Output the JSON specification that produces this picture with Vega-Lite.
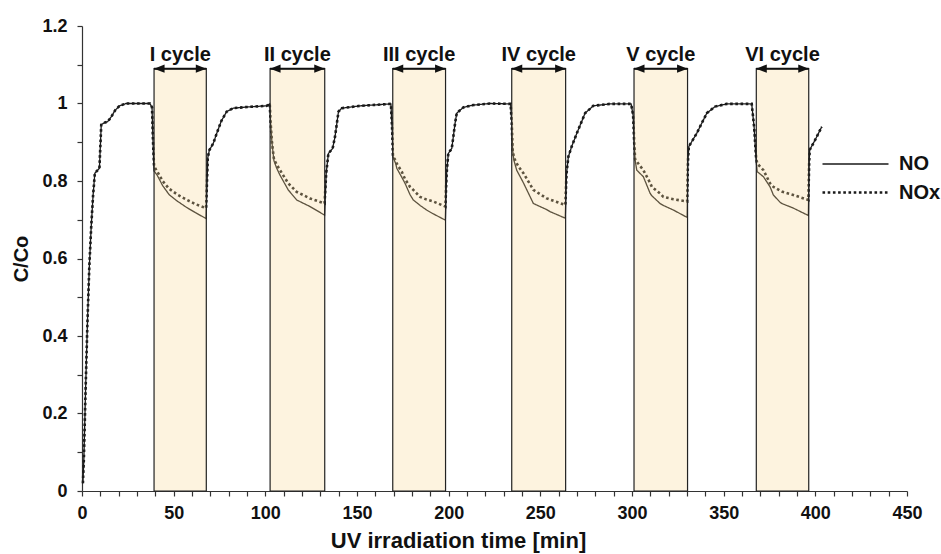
{
  "$schema": "https://vega.github.io/schema/vega-lite/v6.json",
  "width": 825,
  "height": 465,
  "autosize": {"type": "none"},
  "padding": {"left": 82, "top": 26, "right": 34, "bottom": 63},
  "background": "white",
  "config": {
    "view": {"stroke": null},
    "font": "Liberation Sans",
    "axis": {
      "grid": false,
      "domainColor": "#333333",
      "domainWidth": 1.2,
      "tickColor": "#333333",
      "tickWidth": 1.2,
      "tickSize": 5,
      "labelFont": "Liberation Sans",
      "labelFontSize": 18,
      "labelFontWeight": "bold",
      "labelColor": "#111111",
      "labelOverlap": false,
      "labelFlush": false,
      "titleFont": "Liberation Sans",
      "titleFontSize": 20,
      "titleFontWeight": "bold",
      "titleColor": "#111111"
    },
    "legend": {
      "orient": "none",
      "legendX": 761,
      "legendY": 126,
      "padding": 0,
      "labelFont": "Liberation Sans",
      "labelFontSize": 20,
      "labelFontWeight": "bold",
      "labelColor": "#111111",
      "symbolType": "M-3,0H3",
      "symbolSize": 484,
      "symbolStrokeColor": "#1a1a1a",
      "labelOffset": 31,
      "rowPadding": 6
    }
  },
  "datasets": {
    "curve": [
      {"t": 0.5, "NO": 0.02, "NOx": 0.02},
      {"t": 1, "NO": 0.08, "NOx": 0.08},
      {"t": 2, "NO": 0.27, "NOx": 0.27},
      {"t": 3, "NO": 0.44, "NOx": 0.44},
      {"t": 4, "NO": 0.58, "NOx": 0.58},
      {"t": 5, "NO": 0.68, "NOx": 0.68},
      {"t": 6, "NO": 0.76, "NOx": 0.76},
      {"t": 7, "NO": 0.82, "NOx": 0.82},
      {"t": 9.5, "NO": 0.833, "NOx": 0.833},
      {"t": 10.5, "NO": 0.945, "NOx": 0.945},
      {"t": 12, "NO": 0.95, "NOx": 0.95},
      {"t": 14, "NO": 0.953, "NOx": 0.953},
      {"t": 16, "NO": 0.966, "NOx": 0.966},
      {"t": 18, "NO": 0.982, "NOx": 0.982},
      {"t": 20.5, "NO": 0.994, "NOx": 0.994},
      {"t": 24, "NO": 1.0, "NOx": 1.0},
      {"t": 37, "NO": 1.0, "NOx": 1.0},
      {"t": 38.2, "NO": 0.99, "NOx": 0.99},
      {"t": 38.7, "NO": 0.906, "NOx": 0.906},
      {"t": 39.3, "NO": 0.826, "NOx": 0.838},
      {"t": 41, "NO": 0.815, "NOx": 0.825},
      {"t": 44, "NO": 0.788, "NOx": 0.8},
      {"t": 47.5, "NO": 0.765, "NOx": 0.78},
      {"t": 52, "NO": 0.748, "NOx": 0.765},
      {"t": 57, "NO": 0.732, "NOx": 0.752},
      {"t": 62, "NO": 0.718, "NOx": 0.74},
      {"t": 67.7, "NO": 0.703, "NOx": 0.73},
      {"t": 68.6, "NO": 0.86, "NOx": 0.86},
      {"t": 69.5, "NO": 0.88, "NOx": 0.88},
      {"t": 71.6, "NO": 0.897, "NOx": 0.897},
      {"t": 73.5, "NO": 0.923, "NOx": 0.923},
      {"t": 76, "NO": 0.955, "NOx": 0.955},
      {"t": 78.9, "NO": 0.979, "NOx": 0.979},
      {"t": 82.5, "NO": 0.988, "NOx": 0.988},
      {"t": 90, "NO": 0.991, "NOx": 0.991},
      {"t": 100.8, "NO": 0.994, "NOx": 0.994},
      {"t": 102.4, "NO": 0.999, "NOx": 0.999},
      {"t": 102.9, "NO": 0.949, "NOx": 0.949},
      {"t": 103.6, "NO": 0.9, "NOx": 0.9},
      {"t": 104.7, "NO": 0.852, "NOx": 0.856},
      {"t": 106.2, "NO": 0.833, "NOx": 0.842},
      {"t": 108, "NO": 0.815, "NOx": 0.828},
      {"t": 112.5, "NO": 0.777, "NOx": 0.794},
      {"t": 117.1, "NO": 0.751, "NOx": 0.772},
      {"t": 124.4, "NO": 0.734, "NOx": 0.755},
      {"t": 132.3, "NO": 0.712, "NOx": 0.742},
      {"t": 133.2, "NO": 0.82, "NOx": 0.82},
      {"t": 134.4, "NO": 0.871, "NOx": 0.871},
      {"t": 136.7, "NO": 0.884, "NOx": 0.884},
      {"t": 138, "NO": 0.914, "NOx": 0.914},
      {"t": 139.9, "NO": 0.979, "NOx": 0.979},
      {"t": 141.7, "NO": 0.988, "NOx": 0.988},
      {"t": 151.7, "NO": 0.994, "NOx": 0.994},
      {"t": 168.5, "NO": 0.999, "NOx": 0.999},
      {"t": 169.2, "NO": 0.93, "NOx": 0.93},
      {"t": 169.6, "NO": 0.863, "NOx": 0.863},
      {"t": 171.1, "NO": 0.845, "NOx": 0.853},
      {"t": 171.7, "NO": 0.833, "NOx": 0.845},
      {"t": 174.4, "NO": 0.81, "NOx": 0.824},
      {"t": 176.2, "NO": 0.794, "NOx": 0.805},
      {"t": 178.9, "NO": 0.765, "NOx": 0.785},
      {"t": 180.7, "NO": 0.751, "NOx": 0.777},
      {"t": 184.4, "NO": 0.737, "NOx": 0.759},
      {"t": 188, "NO": 0.725, "NOx": 0.752},
      {"t": 191.7, "NO": 0.715, "NOx": 0.747},
      {"t": 198.2, "NO": 0.699, "NOx": 0.734},
      {"t": 198.9, "NO": 0.82, "NOx": 0.82},
      {"t": 199.8, "NO": 0.871, "NOx": 0.871},
      {"t": 201.7, "NO": 0.884, "NOx": 0.884},
      {"t": 203.5, "NO": 0.949, "NOx": 0.949},
      {"t": 204.4, "NO": 0.975, "NOx": 0.975},
      {"t": 208, "NO": 0.99, "NOx": 0.99},
      {"t": 213.5, "NO": 0.996, "NOx": 0.996},
      {"t": 222.6, "NO": 1.0, "NOx": 1.0},
      {"t": 233.8, "NO": 0.999, "NOx": 0.999},
      {"t": 234.4, "NO": 0.95, "NOx": 0.95},
      {"t": 234.9, "NO": 0.88, "NOx": 0.88},
      {"t": 235.6, "NO": 0.853, "NOx": 0.86},
      {"t": 237.1, "NO": 0.828, "NOx": 0.845},
      {"t": 239.9, "NO": 0.803, "NOx": 0.825},
      {"t": 240.8, "NO": 0.795, "NOx": 0.82},
      {"t": 246.2, "NO": 0.742, "NOx": 0.777},
      {"t": 253.5, "NO": 0.726, "NOx": 0.755},
      {"t": 255.3, "NO": 0.721, "NOx": 0.752},
      {"t": 263.6, "NO": 0.704, "NOx": 0.738},
      {"t": 264.3, "NO": 0.82, "NOx": 0.82},
      {"t": 265.3, "NO": 0.863, "NOx": 0.863},
      {"t": 267.1, "NO": 0.889, "NOx": 0.889},
      {"t": 269.9, "NO": 0.923, "NOx": 0.923},
      {"t": 274.4, "NO": 0.975, "NOx": 0.975},
      {"t": 278.9, "NO": 0.994, "NOx": 0.994},
      {"t": 288, "NO": 0.999, "NOx": 0.999},
      {"t": 299.5, "NO": 0.999, "NOx": 0.999},
      {"t": 300.6, "NO": 0.97, "NOx": 0.97},
      {"t": 301.2, "NO": 0.9, "NOx": 0.9},
      {"t": 301.7, "NO": 0.854, "NOx": 0.856},
      {"t": 302.6, "NO": 0.828, "NOx": 0.85},
      {"t": 306.2, "NO": 0.811, "NOx": 0.828},
      {"t": 309.9, "NO": 0.768, "NOx": 0.795},
      {"t": 310.8, "NO": 0.762, "NOx": 0.785},
      {"t": 315.3, "NO": 0.742, "NOx": 0.768},
      {"t": 317.1, "NO": 0.737, "NOx": 0.759},
      {"t": 322.6, "NO": 0.725, "NOx": 0.753},
      {"t": 330.1, "NO": 0.706, "NOx": 0.747},
      {"t": 330.5, "NO": 0.85, "NOx": 0.85},
      {"t": 331, "NO": 0.889, "NOx": 0.889},
      {"t": 335.3, "NO": 0.923, "NOx": 0.923},
      {"t": 340.8, "NO": 0.975, "NOx": 0.975},
      {"t": 345.3, "NO": 0.992, "NOx": 0.992},
      {"t": 351.7, "NO": 0.999, "NOx": 0.999},
      {"t": 365.3, "NO": 0.999, "NOx": 0.999},
      {"t": 366.6, "NO": 0.94, "NOx": 0.94},
      {"t": 367.7, "NO": 0.854, "NOx": 0.859},
      {"t": 368.3, "NO": 0.824, "NOx": 0.845},
      {"t": 371.7, "NO": 0.811, "NOx": 0.828},
      {"t": 375.3, "NO": 0.785, "NOx": 0.794},
      {"t": 377.1, "NO": 0.764, "NOx": 0.785},
      {"t": 380.8, "NO": 0.745, "NOx": 0.775},
      {"t": 381.7, "NO": 0.742, "NOx": 0.773},
      {"t": 388, "NO": 0.73, "NOx": 0.764},
      {"t": 396.2, "NO": 0.711, "NOx": 0.751},
      {"t": 396.6, "NO": 0.84, "NOx": 0.84},
      {"t": 396.9, "NO": 0.88, "NOx": 0.88},
      {"t": 399.9, "NO": 0.906, "NOx": 0.906},
      {"t": 403.5, "NO": 0.94, "NOx": 0.94}
    ],
    "bands": [
      {"cycle": "I cycle", "start": 39.3, "end": 67.8, "mid": 53.6},
      {"cycle": "II cycle", "start": 102.6, "end": 132.4, "mid": 117.5},
      {"cycle": "III cycle", "start": 169.5, "end": 198.3, "mid": 183.9},
      {"cycle": "IV cycle", "start": 234.4, "end": 263.8, "mid": 249.1},
      {"cycle": "V cycle", "start": 301.1, "end": 330.3, "mid": 315.7},
      {"cycle": "VI cycle", "start": 367.8, "end": 396.4, "mid": 382.1}
    ]
  },
  "layer": [
    {
      "data": {"name": "curve"},
      "transform": [{"fold": ["NO", "NOx"], "as": ["series", "v"]}],
      "mark": {"type": "line", "color": "#1a1a1a", "strokeCap": "butt"},
      "encoding": {
        "x": {
          "field": "t",
          "type": "quantitative",
          "scale": {"domain": [0, 450], "nice": false, "zero": false},
          "axis": {
            "title": "UV irradiation time [min]",
            "tickCount": 45,
            "labelExpr": "datum.value % 50 === 0 ? format(datum.value, 'd') : ''",
            "labelOverlap": false,
            "labelPadding": 8,
            "titleFontSize": 22,
            "titleX": 376,
            "titleY": 56,
            "titleBaseline": "alphabetic",
            "titleAnchor": "middle"
          }
        },
        "y": {
          "field": "v",
          "type": "quantitative",
          "scale": {"domain": [0, 1.2], "nice": false, "zero": true},
          "axis": {
            "title": "C/Co",
            "tickCount": 12,
            "labelExpr": "round(datum.value * 10) % 2 === 0 ? format(datum.value, '~g') : ''",
            "labelOverlap": false,
            "labelPadding": 10,
            "titlePadding": 10
          }
        },
        "strokeDash": {
          "field": "series",
          "type": "nominal",
          "scale": {"domain": ["NO", "NOx"], "range": [[1, 0], [2.6, 2.6]]},
          "legend": {"title": null}
        },
        "strokeWidth": {
          "field": "series",
          "type": "nominal",
          "scale": {"domain": ["NO", "NOx"], "range": [1.3, 2.6]},
          "legend": {"title": null}
        }
      }
    },
    {
      "data": {"name": "bands"},
      "mark": {"type": "rect", "fill": "#F8D794", "fillOpacity": 0.3, "stroke": "#222222", "strokeWidth": 1.2},
      "encoding": {
        "x": {"field": "start", "type": "quantitative"},
        "x2": {"field": "end"},
        "y": {"datum": 0, "type": "quantitative"},
        "y2": {"datum": 1.09}
      }
    },
    {
      "data": {"name": "bands"},
      "mark": {"type": "rule", "color": "#111111", "strokeWidth": 2},
      "encoding": {
        "x": {"field": "start", "type": "quantitative"},
        "x2": {"field": "end"},
        "y": {"datum": 1.09, "type": "quantitative"}
      }
    },
    {
      "data": {"name": "bands"},
      "mark": {"type": "point", "shape": "M0,0L2,-0.8L2,0.8Z", "filled": true, "color": "#111111", "opacity": 1, "size": 110},
      "encoding": {
        "x": {"field": "start", "type": "quantitative"},
        "y": {"datum": 1.09, "type": "quantitative"}
      }
    },
    {
      "data": {"name": "bands"},
      "mark": {"type": "point", "shape": "M0,0L-2,-0.8L-2,0.8Z", "filled": true, "color": "#111111", "opacity": 1, "size": 110},
      "encoding": {
        "x": {"field": "end", "type": "quantitative"},
        "y": {"datum": 1.09, "type": "quantitative"}
      }
    },
    {
      "data": {"name": "bands"},
      "mark": {"type": "text", "font": "Liberation Sans", "fontSize": 20, "fontWeight": "bold", "color": "#111111", "baseline": "alphabetic", "align": "center"},
      "encoding": {
        "x": {"field": "mid", "type": "quantitative"},
        "y": {"datum": 1.11, "type": "quantitative"},
        "text": {"field": "cycle"}
      }
    }
  ]
}
